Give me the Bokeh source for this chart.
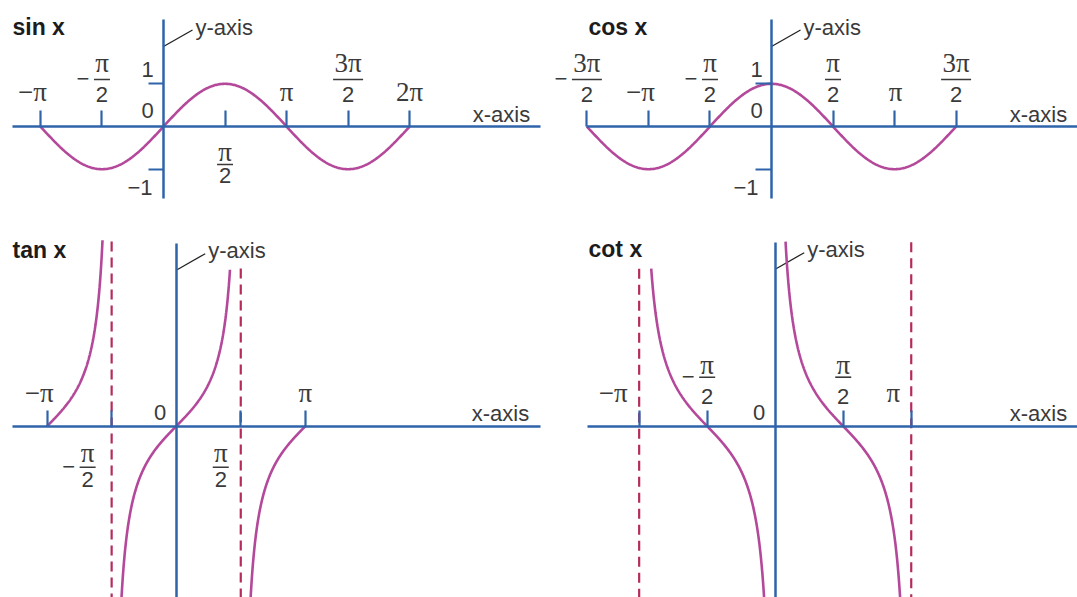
import numpy as np
from bokeh.plotting import figure
from bokeh.models import Range1d, LinearAxis, FixedTicker, ColumnDataSource, CustomJSTickFormatter
from bokeh.layouts import column, row
from bokeh.core.properties import value
from bokeh.embed import file_html
from bokeh.resources import INLINE

PI = np.pi

# ---------------- data ----------------
titles = ["sin x", "cos x", "tan x", "cot x"]

sin_domain = [-PI, 2 * PI]
cos_domain = [-1.5 * PI, 1.5 * PI]

tan_branches = [[-PI, -1.793], [-1.40, 1.3085], [1.74, PI]]
tan_asymptotes = [-PI / 2, PI / 2]
tan_asymptote_tops = [4.40, 3.755]

cot_branches = [[-2.8633, -0.16], [0.2392, PI - 0.16]]
cot_asymptotes = [-PI, PI]
cot_asymptote_tops = [3.50, 4.09]

sin_xticks = [-PI, -PI / 2, PI / 2, PI, 1.5 * PI, 2 * PI]
sin_xlabels = ["−π", "−π/2", "π/2", "π", "3π/2", "2π"]
cos_xticks = [-1.5 * PI, -PI, -PI / 2, PI / 2, PI, 1.5 * PI]
cos_xlabels = ["−3π/2", "−π", "−π/2", "π/2", "π", "3π/2"]
tan_xticks = [-PI, -PI / 2, PI / 2, PI]
tan_xlabels = ["−π", "−π/2", "π/2", "π"]
cot_xticks = [-PI, -PI / 2, PI / 2, PI]
cot_xlabels = ["−π", "−π/2", "π/2", "π"]
wave_yticks = [-1, 1]
wave_ylabels = ["−1", "1"]

# ---------------- styles / layout (pixels) ----------------
AXIS_C = "#2f64aa"
CURVE_C = "#b4489a"
ASYM_C = "#b42b5c"
LABEL_C = "#3a3a3a"
TITLE_C = "#1c1c1c"
SANS = "Liberation Sans"
SERIF = "Liberation Serif"
SANS_SIZE = "22px"
SERIF_SIZE = "27px"
PI_ADJ = 2.9  # π glyph sits below the text middle

GEO = {
    "sin": dict(w=550, h=220, ox=163, oy=126, sx=39.17, sy=42.7, xax=(12, 540), yax=(19, 198),
                place=["above", "above", "below", "above", "above", "above"], ldx=[-8, 0, 0, 0, 0, 0],
                single=32, above=(60.5, 47, 32), below=(-28, -38, -49), zero=(-16, 16),
                one=(-16, 14), mone=(-11, -18), ytick=15, xlab=(501, 12.5), title_x=12),
    "cos": dict(w=527, h=220, ox=221, oy=126, sx=39.17, sy=42.7, xax=(None, 527), yax=(19, 198),
                place=["above"] * 6, ldx=[0, -8, 0, 0, 1, 0],
                single=32, above=(60.5, 47, 32), below=(-28, -38, -49), zero=(-15, 16),
                one=(-15, 14), mone=(-13, -18), ytick=16, xlab=(488, 12.5), title_x=38),
    "tan": dict(w=550, h=377, ox=175.7, oy=205.7, sx=41.1, sy=42.0, xax=(12, 540), yax=(22.7, 377),
                place=["above", "below", "below", "above"], ldx=[-8, -24, -20, 0],
                single=30, above=(59, 49, 30), below=(-30, -41, -53), zero=(-16, 14),
                one=None, mone=None, ytick=0, xlab=(500, 12.5), title_x=12),
    "cot": dict(w=527, h=377, ox=224.7, oy=205.7, sx=43.3, sy=45.0, xax=(37.3, 527), yax=(21.7, 377),
                place=["above"] * 4, ldx=[-26, 0, 0, -18],
                single=30, above=(58.5, 49, 30), below=(-30, -41, -53), zero=(-16, 14),
                one=None, mone=None, ytick=0, xlab=(488, 12.5), title_x=38),
}


def blank_fmt():
    return CustomJSTickFormatter(code="return ''")


def make_panel(key, title, xticks, xlabels, yticks=None, ylabels=None):
    g = GEO[key]
    w, h, ox, oy, sx, sy = g["w"], g["h"], g["ox"], g["oy"], g["sx"], g["sy"]
    p = figure(width=w, height=h,
               x_range=Range1d(-ox / sx, (w - ox) / sx),
               y_range=Range1d(-(h - oy) / sy, oy / sy),
               output_backend="svg", toolbar_location=None,
               x_axis_location=None, y_axis_location=None, min_border=0)
    p.outline_line_color = None
    p.grid.grid_line_color = None
    p.background_fill_color = "white"
    p.border_fill_color = "white"

    X = lambda px: (px - ox) / sx
    Y = lambda py: (oy - py) / sy
    DX = lambda px: px / sx
    DY = lambda px: px / sy

    x0 = X(g["xax"][0]) if g["xax"][0] is not None else xticks[0]
    x1 = X(g["xax"][1])
    y_top = Y(g["yax"][0])
    y_bot = Y(g["yax"][1])

    xa = LinearAxis(fixed_location=0, bounds=(x0, x1),
                    ticker=FixedTicker(ticks=list(xticks), minor_ticks=[]),
                    formatter=blank_fmt(),
                    axis_line_color=AXIS_C, axis_line_width=2.5,
                    major_tick_line_color=AXIS_C, major_tick_line_width=2.2,
                    major_tick_in=16, major_tick_out=0, minor_tick_line_color=None,
                    major_label_text_font_size="1px")
    p.add_layout(xa, "below")
    ya = LinearAxis(fixed_location=0, bounds=(y_bot, y_top),
                    ticker=FixedTicker(ticks=list(yticks or []), minor_ticks=[]),
                    formatter=blank_fmt(),
                    axis_line_color=AXIS_C, axis_line_width=2.5,
                    major_tick_line_color=AXIS_C, major_tick_line_width=2.2,
                    major_tick_in=0, major_tick_out=g["ytick"], minor_tick_line_color=None,
                    major_label_text_font_size="1px")
    p.add_layout(ya, "left")

    sans = dict(x=[], y=[], t=[], a=[])
    serif = dict(x=[], y=[], t=[], a=[])
    bars = dict(x0=[], x1=[], y=[])

    def put(d, x, y, t, a="center"):
        d["x"].append(x); d["y"].append(y); d["t"].append(t); d["a"].append(a)

    # tick labels on the x axis
    for xv, lab, pl, dx in zip(xticks, xlabels, g["place"], g["ldx"]):
        cx = xv + DX(dx)
        if "/" in lab:
            num, den = lab.split("/")
            neg = num.startswith("−")
            num = num.lstrip("−")
            ny, by, dy = g["above"] if pl == "above" else g["below"]
            bw = 16 if len(num) == 1 else 30
            put(serif, cx, DY(ny + PI_ADJ), num)
            put(sans, cx, DY(dy), den)
            bars["x0"].append(cx - DX(bw / 2)); bars["x1"].append(cx + DX(bw / 2)); bars["y"].append(DY(by))
            if neg:
                put(sans, cx - DX(bw / 2 + 11), DY(by + 1), "−")
        else:
            put(serif, cx, DY(g["single"] + PI_ADJ), lab)

    # origin label
    put(sans, DX(g["zero"][0]), DY(g["zero"][1]), "0")
    # y tick labels
    if yticks:
        for yv, lab in zip(yticks, ylabels):
            if yv > 0:
                put(sans, DX(g["one"][0]), yv + DY(g["one"][1]), lab)
            else:
                put(sans, DX(g["mone"][0]), yv + DY(g["mone"][1]), lab, "right")

    # axis names
    put(sans, X(g["xlab"][0]), DY(g["xlab"][1]), "x-axis")
    put(sans, DX(32), y_top - DY(7.5), "y-axis", "left")
    p.segment(x0=[0], y0=[y_top - DY(27)], x1=[DX(29)], y1=[y_top - DY(10.5)],
              line_color="#222222", line_width=1.3)

    for d, font, size in ((sans, SANS, SANS_SIZE), (serif, SERIF, SERIF_SIZE)):
        for align in ("center", "left", "right"):
            idx = [i for i, a in enumerate(d["a"]) if a == align]
            if not idx:
                continue
            s = ColumnDataSource(dict(x=[d["x"][i] for i in idx], y=[d["y"][i] for i in idx],
                                      t=[d["t"][i] for i in idx]))
            p.text(x="x", y="y", text="t", source=s, text_align=align, text_baseline="middle",
                   text_font=value(font), text_font_size=value(size), text_color=LABEL_C)
    if bars["x0"]:
        p.segment(x0="x0", y0="y", x1="x1", y1="y", source=ColumnDataSource(bars),
                  line_color=LABEL_C, line_width=1.6)

    # title
    p.text(x=[X(g["title_x"])], y=[y_top - DY(7)], text=[title], text_align="left",
           text_baseline="middle", text_font=value(SANS), text_font_size=value("23px"),
           text_font_style="bold", text_color=TITLE_C)
    return p


def draw_curve(p, xs, ys):
    p.line(xs, ys, line_color=CURVE_C, line_width=2.6)


def draw_asymptotes(p, xs, tops):
    bottom = p.y_range.start
    p.segment(x0=xs, y0=tops, x1=xs, y1=[bottom] * len(xs),
              line_color=ASYM_C, line_width=2.2, line_dash="10 6")


# sin
p_sin = make_panel("sin", titles[0], sin_xticks, sin_xlabels, wave_yticks, wave_ylabels)
xs = np.linspace(sin_domain[0], sin_domain[1], 400)
draw_curve(p_sin, xs, np.sin(xs))

# cos
p_cos = make_panel("cos", titles[1], cos_xticks, cos_xlabels, wave_yticks, wave_ylabels)
xs = np.linspace(cos_domain[0], cos_domain[1], 400)
draw_curve(p_cos, xs, np.cos(xs))

# tan
p_tan = make_panel("tan", titles[2], tan_xticks, tan_xlabels)
draw_asymptotes(p_tan, tan_asymptotes, tan_asymptote_tops)
for a, b in tan_branches:
    xs = np.linspace(a, b, 300)
    draw_curve(p_tan, xs, np.tan(xs))

# cot
p_cot = make_panel("cot", titles[3], cot_xticks, cot_xlabels)
draw_asymptotes(p_cot, cot_asymptotes, cot_asymptote_tops)
for a, b in cot_branches:
    xs = np.linspace(a, b, 300)
    draw_curve(p_cot, xs, 1.0 / np.tan(xs))

layout = column(row(p_sin, p_cos), row(p_tan, p_cot))
open("out.html", "w").write(file_html(layout, INLINE))
